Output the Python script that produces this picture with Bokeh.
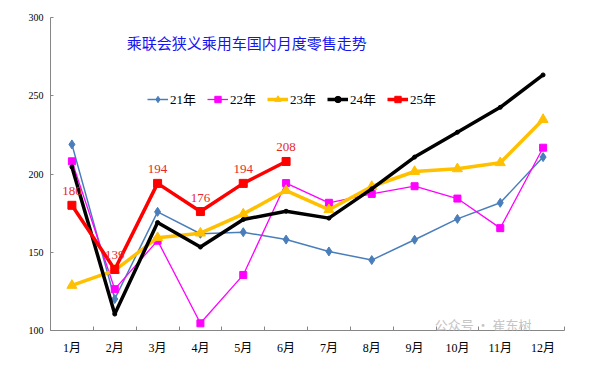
from bokeh.plotting import figure
from bokeh.models import (Range1d, FixedTicker, ColumnDataSource, LabelSet, Label, Legend)
from bokeh.embed import file_html
from bokeh.resources import INLINE

months = ["1月", "2月", "3月", "4月", "5月", "6月", "7月", "8月", "9月", "10月", "11月", "12月"]
y21 = [218.9, 120.1, 175.8, 161.8, 162.8, 158.1, 150.5, 145.0, 158.0, 171.3, 181.6, 210.8]
y22 = [208.1, 126.4, 157.4, 104.6, 135.5, 194.2, 181.6, 187.3, 192.2, 184.3, 165.4, 216.8]
y23 = [128.8, 138.4, 159.3, 162.2, 174.4, 189.4, 177.2, 192.0, 201.6, 203.3, 207.2, 234.8]
y24 = [204.5, 110.5, 169.0, 153.3, 170.9, 176.2, 171.8, 190.5, 210.8, 226.7, 242.6, 263.3]
y25 = [180, 139, 194, 176, 194, 208]
y25_labels = ["180", "139", "194", "176", "194", "208"]
y_ticks = [100, 150, 200, 250, 300]
title_text = "乘联会狭义乘用车国内月度零售走势"
watermark_text = "公众号 · 崔东树"

xs = list(range(1, len(months) + 1))
SERIF = "'Liberation Serif', 'Times New Roman', 'Noto Sans CJK SC', serif"

p = figure(width=590, height=363, output_backend="svg", toolbar_location=None,
           x_range=Range1d(0.5, 12.5), y_range=Range1d(100, 300),
           min_border_left=50, min_border_right=26, min_border_top=17, min_border_bottom=33)
p.outline_line_color = None
p.xgrid.grid_line_color = None
p.ygrid.grid_line_color = None
p.background_fill_color = "white"
p.border_fill_color = "white"

# x axis
p.xaxis.ticker = FixedTicker(ticks=xs, minor_ticks=[x - 0.5 for x in xs] + [xs[-1] + 0.5])
p.xaxis.major_label_overrides = {x: m for x, m in zip(xs, months)}
p.xaxis.major_tick_line_color = None
p.xaxis.minor_tick_in = 4
p.xaxis.minor_tick_out = 0
p.xaxis.minor_tick_line_color = "#868686"
p.xaxis.axis_line_color = "#868686"
p.xaxis.major_label_text_font = SERIF
p.xaxis.major_label_text_font_size = "12px"
p.xaxis.major_label_text_color = "black"
p.xaxis.major_label_standoff = 4

# y axis
p.yaxis.ticker = FixedTicker(ticks=y_ticks, minor_ticks=[])
p.yaxis.major_tick_in = 3
p.yaxis.major_tick_out = 0
p.yaxis.major_tick_line_color = "#868686"
p.yaxis.axis_line_color = "#868686"
p.yaxis.major_label_text_font = SERIF
p.yaxis.major_label_text_font_size = "10px"
p.yaxis.major_label_text_color = "black"
p.yaxis.major_label_standoff = 7

l21 = p.line(xs, y21, line_color="#4A7EBB", line_width=1.5)
m21 = p.scatter(xs, y21, marker="diamond", size=9, fill_color="#4A7EBB", line_color="#4A7EBB")
l22 = p.line(xs, y22, line_color="#FF00FF", line_width=1.3)
m22 = p.scatter(xs, y22, marker="square", size=7, fill_color="#FF00FF", line_color="#FF00FF")
l23 = p.line(xs, y23, line_color="#FFC000", line_width=3.5)
m23 = p.scatter(xs, y23, marker="triangle", size=10, fill_color="#FFC000", line_color="#FFC000")
l24 = p.line(xs, y24, line_color="black", line_width=3.5)
m24 = p.scatter(xs, y24, marker="circle", size=4, fill_color="black", line_color="black")
x25 = xs[:len(y25)]
l25 = p.line(x25, y25, line_color="#FF0000", line_width=3.5)
m25 = p.scatter(x25, y25, marker="square", size=8, fill_color="#FF0000", line_color="#FF0000")

legend = Legend(items=[("21年", [l21, m21]), ("22年", [l22, m22]), ("23年", [l23, m23]),
                       ("24年", [l24, m24]), ("25年", [l25, m25])],
                orientation="horizontal", location=(97, 222),
                border_line_color=None, background_fill_alpha=0,
                padding=0, margin=0, spacing=11, glyph_width=21, glyph_height=16,
                label_standoff=2, label_text_font=SERIF, label_text_font_size="13px",
                label_text_color="black")
p.add_layout(legend)

src = ColumnDataSource(dict(x=x25, y=y25, t=y25_labels))
p.add_layout(LabelSet(x="x", y="y", text="t", source=src, y_offset=10,
                      text_align="center", text_baseline="bottom",
                      text_font=SERIF, text_font_size="13px", text_color="#E8262B"))

p.add_layout(Label(x=5.08, y=284, text=title_text, text_align="center", text_baseline="middle",
                   text_font="'Noto Sans CJK SC', sans-serif", text_font_size="15px",
                   text_color="#1515F0"))

p.add_layout(Label(x=10.6, y=104.0, text=watermark_text, text_align="center", text_baseline="middle",
                   text_font="'Noto Sans CJK SC', sans-serif", text_font_size="13px",
                   text_color="#C4C4C4"))

open("out.html", "w").write(file_html(p, INLINE))
